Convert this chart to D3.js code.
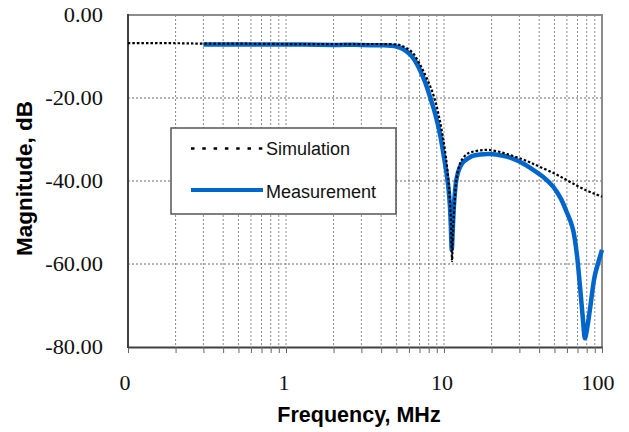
<!DOCTYPE html>
<html>
<head>
<meta charset="utf-8">
<script src="https://cdn.jsdelivr.net/npm/d3@7"></script>
<style>
  body { margin: 0; background: #fff; }
  svg { display: block; }
</style>
</head>
<body>
<svg id="chart" width="629" height="432"></svg>
<script>
// frequency in MHz, magnitude in dB
const simFreq = [0.1, 0.2, 0.3, 0.5, 1, 2, 3, 4, 5, 5.3, 5.8, 6.4, 6.9, 7.4, 8.15, 8.8, 9.3, 9.8, 10.3, 10.7, 11.0, 11.15, 11.25, 11.4, 11.7, 12.0, 12.5, 13, 14, 15, 17, 19, 22, 25, 30, 35, 40, 50, 60, 70, 80, 90, 100];
const simMag  = [-6.8, -6.8, -6.9, -6.9, -7.0, -7.0, -7.0, -7.0, -7.1, -7.3, -8.0, -9.3, -11.3, -13.5, -17.0, -20.7, -24.5, -29.0, -34.5, -40.5, -47.5, -54, -59.3, -52, -44.5, -39.5, -36.3, -34.8, -33.5, -33.0, -32.6, -32.5, -32.9, -33.5, -34.5, -35.5, -36.5, -38.2, -39.8, -41.2, -42.3, -43.1, -43.8];

const measFreq = [0.3, 0.5, 1, 2, 3, 4, 4.6, 5, 5.5, 6.1, 6.6, 7.05, 7.6, 8.15, 8.6, 9.0, 9.5, 9.9, 10.3, 10.65, 10.9, 11.05, 11.2, 11.35, 11.6, 12.0, 12.5, 13.2, 13.9, 15, 16.9, 19.5, 22, 24.9, 30, 36.7, 43, 49.2, 55, 59.8, 63, 65.8, 69.2, 72.6, 75.8, 78, 80.5, 84.2, 89.8, 95, 100];
const measMag  = [-7.1, -7.1, -7.1, -7.2, -7.2, -7.3, -7.4, -7.6, -8.2, -9.5, -11.2, -13.3, -16.2, -19.7, -22.5, -25.3, -29.3, -33.3, -37.3, -41.4, -46, -51, -56.6, -52, -45, -39.5, -37, -35.5, -34.8, -34.0, -33.6, -33.5, -33.7, -34.1, -35.3, -37.3, -39.2, -41.4, -44.3, -47.5, -49.6, -52, -57.4, -65.5, -73.5, -77.9, -75.5, -70.5, -63, -59.5, -56.6];

const yTicks = [0, -20, -40, -60, -80];
const yTickLabels = ["0.00", "-20.00", "-40.00", "-60.00", "-80.00"];
const xTicks = [0.1, 1, 10, 100];
const xTickLabels = ["0", "1", "10", "100"];
const seriesNames = ["Simulation", "Measurement"];

const SERIF = "'Liberation Serif', 'DejaVu Serif', 'Times New Roman', serif";
const SANS = "'Liberation Sans', Arial, sans-serif";

const svg = d3.select("#chart");
const margin = {left: 128, top: 15, right: 27, bottom: 85};
const W = 629, H = 432;
const x0 = margin.left, x1 = W - margin.right;
const y0 = margin.top, y1 = H - margin.bottom;

const x = d3.scaleLog().domain([0.1, 100]).range([x0, x1]);
const y = d3.scaleLinear().domain([-80, 0]).range([y1, y0]);

// all log gridline positions (1..9 per decade)
const minor = [];
[0.1, 1, 10].forEach(d => { for (let k = 1; k < 10; k++) minor.push(d * k); });
minor.push(100);

// vertical grid
svg.append("g").selectAll("line")
  .data(minor.filter(d => d > 0.1 && d < 100))
  .join("line")
  .attr("x1", d => x(d)).attr("x2", d => x(d))
  .attr("y1", y0).attr("y2", y1)
  .attr("stroke", "#8a8a8a").attr("stroke-width", 1)
  .attr("stroke-dasharray", "2,2");

// horizontal grid
svg.append("g").selectAll("line")
  .data(yTicks.filter(d => d > -80 && d < 0))
  .join("line")
  .attr("x1", x0).attr("x2", x1)
  .attr("y1", d => y(d)).attr("y2", d => y(d))
  .attr("stroke", "#6a6a6a").attr("stroke-width", 1)
  .attr("stroke-dasharray", "2,2");

// top / right frame
svg.append("path")
  .attr("d", `M${x0},${y0}H${x1}V${y1}`)
  .attr("fill", "none").attr("stroke", "#8c8c8c").attr("stroke-width", 2);

// x axis ticks
const xAxis = d3.axisBottom(x).tickValues(minor).tickFormat("").tickSize(6).tickSizeOuter(0);
svg.append("g")
  .attr("transform", `translate(0,${y1})`)
  .call(xAxis)
  .call(g => g.select(".domain").attr("stroke", "#404040").attr("stroke-width", 2))
  .call(g => g.selectAll(".tick line").attr("stroke", "#666"));

// left axis line
svg.append("line")
  .attr("x1", x0).attr("x2", x0).attr("y1", y0 - 1).attr("y2", y1 + 1)
  .attr("stroke", "#404040").attr("stroke-width", 2);

// y tick labels
svg.append("g").selectAll("text")
  .data(yTicks)
  .join("text")
  .style("font-family", SERIF)
  .attr("transform", d => `translate(103,${y(d) + 7}) scale(1.12,1)`)
  .attr("text-anchor", "end")
  .attr("font-size", 20)
  .attr("fill", "#111")
  .text((d, i) => yTickLabels[i]);

// x tick labels
svg.append("g").selectAll("text")
  .data(xTicks)
  .join("text")
  .style("font-family", SERIF)
  .attr("transform", d => `translate(${x(d) - (d === 0.1 ? 3 : d === 100 ? 4 : 2)},390) scale(1.1,1)`)
  .attr("text-anchor", "middle")
  .attr("font-size", 20)
  .attr("fill", "#111")
  .text((d, i) => xTickLabels[i]);

// axis titles
svg.append("text")
  .style("font-family", SANS)
  .attr("transform", `translate(31.5,178.5) rotate(-90)`)
  .attr("text-anchor", "middle")
  .attr("font-weight", "bold")
  .attr("font-size", 22.5)
  .text("Magnitude, dB");

svg.append("text")
  .style("font-family", SANS)
  .attr("x", 359).attr("y", 421.5)
  .attr("text-anchor", "middle")
  .attr("font-weight", "bold")
  .attr("font-size", 21.5)
  .text("Frequency, MHz");

// curves
const line = d3.line()
  .x(d => x(d[0]))
  .y(d => y(d[1]))
  .curve(d3.curveCatmullRom.alpha(0.5));

const measData = measFreq.map((f, i) => [f, measMag[i]]);
const simData = simFreq.map((f, i) => [f, simMag[i]]);

svg.append("path")
  .datum(measData)
  .attr("d", line)
  .attr("fill", "none")
  .attr("stroke", "#0066cc")
  .attr("stroke-width", 4.5)
  .attr("stroke-linejoin", "round");

svg.append("path")
  .datum(simData)
  .attr("d", line)
  .attr("fill", "none")
  .attr("stroke", "#000")
  .attr("stroke-width", 2.2)
  .attr("stroke-dasharray", "2.5,2");

// legend
const lg = svg.append("g");
lg.append("rect")
  .attr("x", 171).attr("y", 128).attr("width", 225).attr("height", 86)
  .attr("fill", "#fff").attr("stroke", "#555").attr("stroke-width", 1.5);
lg.append("line")
  .attr("x1", 191).attr("x2", 263).attr("y1", 148.5).attr("y2", 148.5)
  .attr("stroke", "#000").attr("stroke-width", 2.5).attr("stroke-dasharray", "3.5,7.8");
lg.append("line")
  .attr("x1", 191).attr("x2", 263).attr("y1", 190).attr("y2", 190)
  .attr("stroke", "#0066cc").attr("stroke-width", 4);
lg.selectAll("text")
  .data(seriesNames)
  .join("text")
  .style("font-family", SANS)
  .attr("x", 266)
  .attr("y", (d, i) => i === 0 ? 155 : 198)
  .attr("font-size", 18)
  .attr("fill", "#111")
  .text(d => d);
</script>
</body>
</html>
